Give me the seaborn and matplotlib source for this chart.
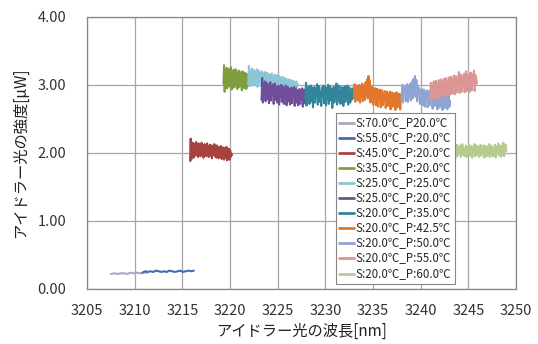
import numpy as np
import pandas as pd
import matplotlib
matplotlib.use("Agg")
import matplotlib.pyplot as plt
import seaborn as sns

# series labels, wavelength span [nm] and intensity readings [uW]
labels = [
    "S:70.0℃_P20.0℃", "S:55.0℃_P:20.0℃", "S:45.0℃_P:20.0℃", "S:35.0℃_P:20.0℃",
    "S:25.0℃_P:25.0℃", "S:25.0℃_P:20.0℃", "S:20.0℃_P:35.0℃", "S:20.0℃_P:42.5℃",
    "S:20.0℃_P:50.0℃", "S:20.0℃_P:55.0℃", "S:20.0℃_P:60.0℃",
]
colors = ["#b3a2c7", "#3f6fad", "#a8423f", "#7f9f3f", "#8cc4d8", "#6f4f9c",
          "#31859c", "#e0772a", "#8ea4d2", "#d99694", "#b6cc8e"]

x_start = [3207.5, 3210.8, 3215.8, 3219.3, 3221.9, 3223.3, 3227.9, 3233.0, 3238.0, 3241.0, 3243.5]
x_end = [3211.3, 3216.2, 3220.2, 3221.9, 3227.1, 3228.2, 3232.9, 3238.0, 3243.1, 3245.9, 3249.0]

s70 = [0.22, 0.23, 0.22, 0.23, 0.23, 0.22, 0.24, 0.23, 0.24, 0.23, 0.24, 0.24]
s55 = [0.24, 0.26, 0.25, 0.26, 0.25, 0.27, 0.26, 0.25, 0.26, 0.25, 0.27, 0.26,
       0.25, 0.26, 0.27, 0.25, 0.26, 0.27, 0.26, 0.27]
s45 = [1.88, 2.21, 1.90, 2.12, 2.00, 2.15, 1.93, 2.08, 2.13, 1.96, 2.16, 1.99, 2.10, 1.94, 2.14,
       2.02, 2.11, 1.95, 2.07, 2.15, 1.97, 2.12, 1.93, 2.04, 2.13, 1.98, 2.09, 1.95, 2.14, 2.01,
       2.10, 1.94, 2.06, 2.12, 1.96, 2.11, 1.92, 2.03, 2.10, 1.97, 2.13, 1.95, 2.08, 1.93, 2.11,
       1.99, 2.06, 1.92, 2.09, 2.02, 1.94, 2.10, 1.91, 2.05, 1.97, 2.08, 1.90, 2.03, 2.07, 1.93,
       2.09, 1.89, 2.02, 1.95, 2.06, 1.90, 2.04, 1.94, 1.99, 1.97]
s35 = [3.02, 3.29, 2.90, 3.22, 3.08, 3.25, 2.95, 3.15, 3.24, 2.98, 3.20, 3.05, 3.26, 2.93, 3.18,
       3.10, 3.22, 2.96, 3.12, 3.23, 2.99, 3.17, 2.94, 3.08, 3.21, 2.97, 3.19, 3.03, 3.15, 2.92,
       3.20, 3.00, 3.14, 2.95, 3.18, 3.05, 2.94, 3.16, 2.98, 3.10]
s25p25 = [3.00, 3.28, 2.98, 3.20, 3.10, 3.24, 3.01, 3.15, 3.22, 2.99, 3.19, 3.06, 3.23, 2.97, 3.12,
          3.21, 3.03, 3.17, 2.98, 3.20, 3.08, 3.15, 2.96, 3.19, 3.04, 3.13, 3.18, 2.97, 3.11, 3.16,
          3.00, 3.14, 2.95, 3.17, 3.06, 3.12, 2.96, 3.15, 3.02, 3.10, 3.14, 2.94, 3.09, 3.13, 2.98,
          3.11, 2.93, 3.08, 3.12, 2.96, 3.07, 3.10, 2.94, 3.09, 3.00, 3.06, 2.93, 3.08, 2.97, 3.05,
          3.07, 2.92, 3.04, 3.06, 2.95, 3.03, 2.93, 3.05, 2.97, 3.01]
s25p20 = [2.78, 3.10, 2.74, 3.02, 2.88, 3.05, 2.76, 2.96, 3.03, 2.79, 3.00, 2.73, 2.92, 3.04, 2.77,
          2.98, 2.85, 3.01, 2.72, 2.95, 3.02, 2.78, 2.97, 2.74, 2.90, 2.99, 2.71, 2.96, 2.83, 3.00,
          2.75, 2.93, 2.98, 2.72, 2.95, 2.80, 2.99, 2.70, 2.92, 2.97, 2.76, 2.94, 2.71, 2.88, 2.96,
          2.73, 2.93, 2.82, 2.97, 2.69, 2.91, 2.95, 2.74, 2.92, 2.70, 2.86, 2.94, 2.72, 2.90, 2.79,
          2.95, 2.68, 2.89, 2.93, 2.73, 2.91, 2.70, 2.87, 2.92, 2.80]
s20p35 = [2.80, 3.03, 2.70, 2.95, 2.85, 2.98, 2.72, 2.91, 2.99, 2.76, 2.96, 2.67, 2.89, 2.97, 2.74,
          2.93, 2.82, 3.01, 2.71, 2.94, 2.98, 2.75, 2.90, 2.69, 2.96, 2.84, 2.99, 2.73, 2.92, 2.97,
          2.70, 2.95, 2.79, 3.00, 2.72, 2.91, 2.98, 2.77, 2.94, 2.66, 2.88, 2.97, 2.74, 2.96, 2.83,
          3.02, 2.71, 2.93, 2.99, 2.76, 2.90, 2.72, 2.97, 2.86, 2.95, 2.69, 2.92, 2.98, 2.75, 2.94,
          2.80, 2.99, 2.71, 2.93, 2.96, 2.74, 2.90, 2.78, 2.95, 2.88]
s20p425 = [2.80, 3.01, 2.75, 2.96, 2.86, 2.99, 2.77, 2.93, 3.00, 2.74, 2.97, 2.82, 3.02, 2.76, 2.95,
           2.99, 2.78, 3.04, 2.85, 3.08, 2.80, 3.13, 2.88, 3.06, 2.74, 2.98, 2.90, 2.96, 2.71, 2.93,
           2.84, 2.95, 2.70, 2.90, 2.94, 2.68, 2.91, 2.79, 2.93, 2.67, 2.89, 2.92, 2.70, 2.88, 2.76,
           2.91, 2.66, 2.87, 2.90, 2.69, 2.86, 2.74, 2.90, 2.64, 2.85, 2.89, 2.68, 2.87, 2.72, 2.88,
           2.63, 2.84, 2.89, 2.67, 2.86, 2.71, 2.87, 2.64, 2.82, 2.78]
s20p50 = [2.78, 3.00, 2.74, 2.95, 2.87, 2.99, 2.76, 2.93, 3.01, 2.75, 2.97, 2.83, 3.02, 2.77, 2.96,
          3.05, 2.80, 3.09, 2.86, 3.13, 2.82, 3.07, 2.76, 2.98, 2.88, 2.95, 2.72, 2.92, 2.83, 2.94,
          2.70, 2.90, 2.93, 2.68, 2.89, 2.78, 2.92, 2.67, 2.88, 2.91, 2.70, 2.87, 2.75, 2.90, 2.65,
          2.86, 2.89, 2.69, 2.85, 2.73, 2.88, 2.64, 2.84, 2.87, 2.67, 2.85, 2.71, 2.86, 2.63, 2.83,
          2.87, 2.66, 2.84, 2.70, 2.85, 2.64, 2.82, 2.86, 2.68, 2.76]
s20p55 = [2.80, 3.03, 2.78, 3.00, 2.92, 3.05, 2.80, 2.98, 3.06, 2.82, 3.02, 2.90, 3.07, 2.81, 3.01,
          3.08, 2.84, 3.04, 2.93, 3.09, 2.83, 3.05, 3.10, 2.86, 3.06, 2.95, 3.11, 2.85, 3.07, 3.12,
          2.87, 3.08, 2.97, 3.14, 2.86, 3.09, 3.13, 2.89, 3.10, 2.99, 3.19, 2.88, 3.11, 3.15, 2.90,
          3.12, 3.01, 3.16, 2.89, 3.13, 3.20, 2.91, 3.14, 3.03, 3.17, 2.90, 3.12, 3.18, 2.92, 3.15,
          3.04, 3.21, 2.91, 3.14, 3.10, 3.02]
s20p60 = [1.95, 2.10, 1.93, 2.06, 2.12, 1.96, 2.09, 2.01, 2.11, 1.94, 2.07, 2.13, 1.97, 2.08, 1.95,
          2.03, 2.11, 1.94, 2.09, 2.00, 2.12, 1.96, 2.06, 2.10, 1.93, 2.08, 1.99, 2.13, 1.95, 2.07,
          2.11, 1.97, 2.09, 1.94, 2.04, 2.12, 1.96, 2.08, 2.01, 2.11, 1.93, 2.07, 2.10, 1.95, 2.09,
          1.98, 2.13, 1.94, 2.06, 2.11, 1.96, 2.08, 1.95, 2.02, 2.12, 1.93, 2.09, 2.00, 2.14, 1.96,
          2.07, 2.11, 1.94, 2.10, 1.97, 2.15, 1.95, 2.08, 2.12, 2.03]

values = [s70, s55, s45, s35, s25p25, s25p20, s20p35, s20p425, s20p50, s20p55, s20p60]

# long table for seaborn; readings are evenly spaced over each scan span
rows = []
for lab, x0, x1, ys in zip(labels, x_start, x_end, values):
    xs = np.linspace(x0, x1, len(ys))
    for xv, yv in zip(xs, ys):
        rows.append({"series": lab, "wavelength": xv, "power": yv})
df = pd.DataFrame(rows)

sns.set_style("white")
plt.rcParams["font.family"] = ["Noto Sans CJK JP", "DejaVu Sans"]

fig = plt.figure(figsize=(5.38, 3.44), dpi=100)
ax = fig.add_axes([0.162, 0.160, 0.797, 0.791])

sns.lineplot(data=df, x="wavelength", y="power", hue="series", hue_order=labels,
             palette=colors, estimator=None, sort=False, linewidth=1.5, ax=ax)

ax.set_xlim(3205, 3250)
ax.set_ylim(0, 4)
ax.set_xticks(np.arange(3205, 3251, 5))
ax.set_yticks([0, 1, 2, 3, 4])
ax.set_yticklabels(["0.00", "1.00", "2.00", "3.00", "4.00"])
ax.tick_params(axis="x", labelsize=10.5, length=0, pad=11, colors="#333333")
ax.tick_params(axis="y", labelsize=10.5, length=0, pad=15, colors="#333333")
ax.grid(True, color="#a6a6a6", linewidth=0.9)
ax.set_axisbelow(True)
for sp in ax.spines.values():
    sp.set_color("#868686")
    sp.set_linewidth(0.9)

ax.set_xlabel("アイドラー光の波長[nm]", fontsize=11, color="#222222", labelpad=3)
ax.set_ylabel("アイドラー光の強度[μW]", fontsize=11, color="#222222", labelpad=6)

handles, labs = ax.get_legend_handles_labels()
leg = ax.legend(handles, labs, loc="lower left", bbox_to_anchor=(0.58, 0.018),
                fontsize=8.3, frameon=True, fancybox=False, framealpha=1,
                edgecolor="#868686", handlelength=1.3, handletextpad=0.1,
                labelspacing=0.18, borderpad=0.3, borderaxespad=0)
leg.get_frame().set_linewidth(0.8)
for line in leg.get_lines():
    line.set_linewidth(2.0)

fig.savefig("out.png", dpi=100)
